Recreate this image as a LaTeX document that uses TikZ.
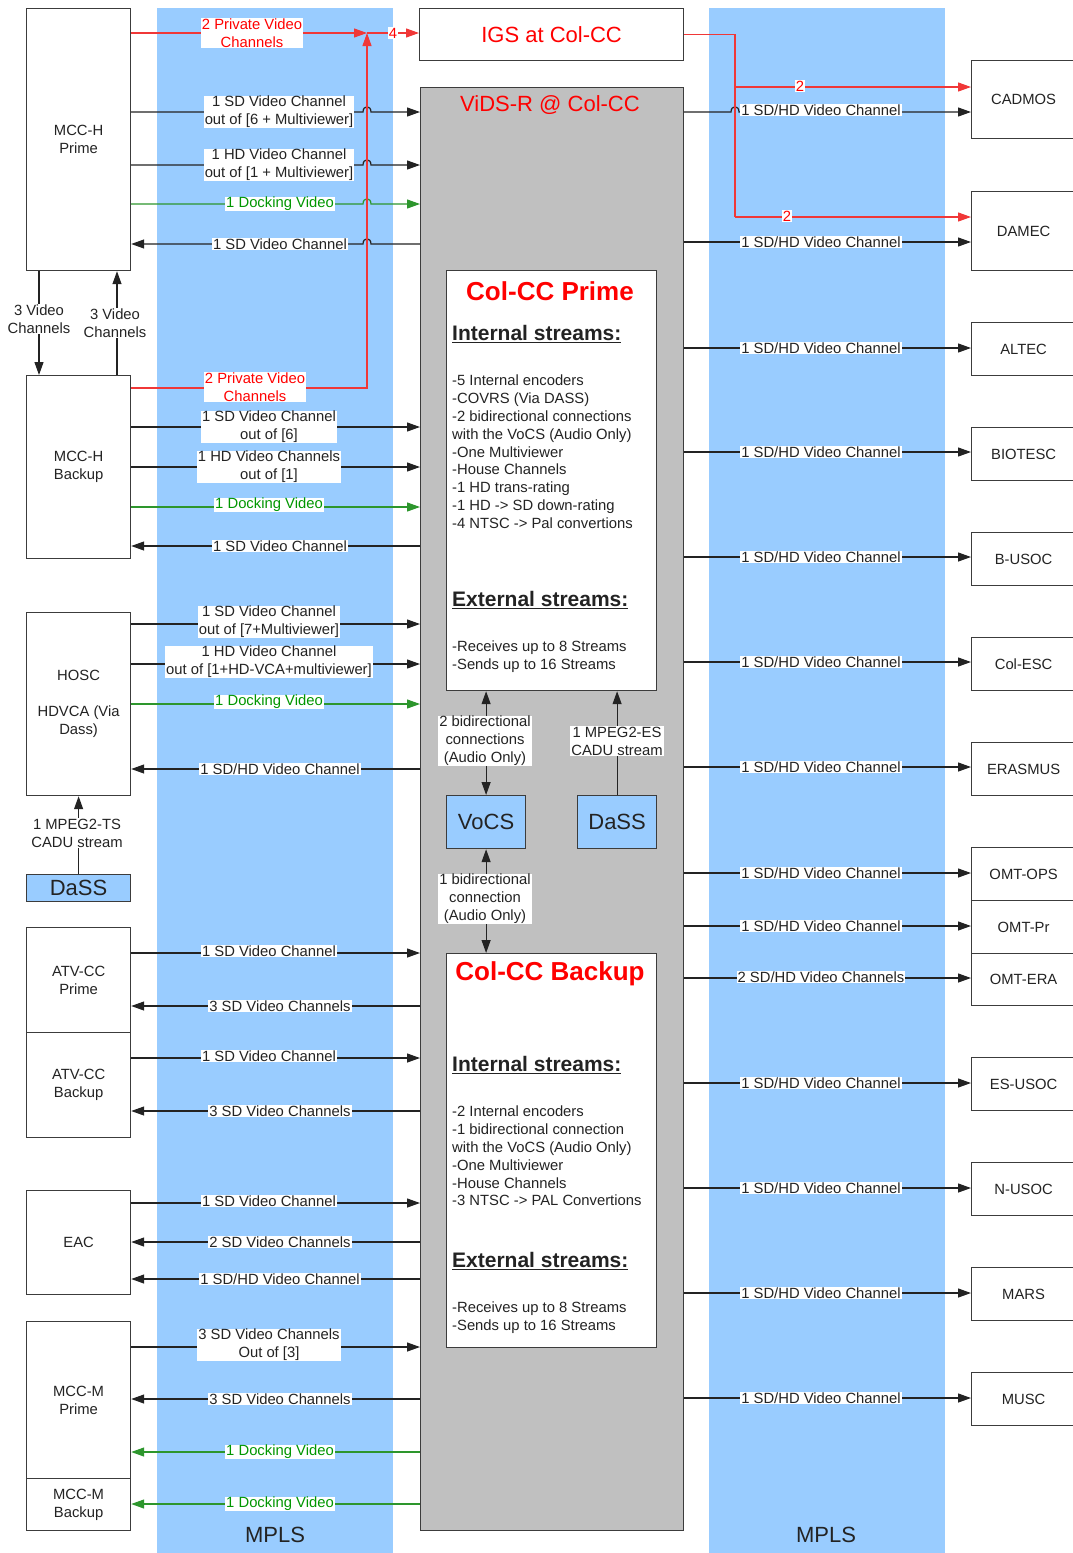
\documentclass[tikz,border=0pt]{standalone}
\usepackage{fontspec}
\setmainfont{Liberation Sans}
\usetikzlibrary{arrows.meta}
\definecolor{mplsblue}{RGB}{153,204,255}
\definecolor{vidsgray}{RGB}{192,192,192}
\definecolor{bordc}{RGB}{60,60,60}
\definecolor{txtc}{RGB}{35,35,35}
\definecolor{redc}{RGB}{255,0,0}
\definecolor{redl}{RGB}{240,55,55}
\definecolor{grnc}{RGB}{0,150,0}
\definecolor{grnl}{RGB}{45,150,45}
\newcommand{\lblfont}{\fontsize{14.8}{18}\selectfont}
\newcommand{\bigfont}{\fontsize{22}{26}\selectfont}
\newcommand{\titfont}{\fontsize{26}{30}\selectfont\bfseries}
\newcommand{\hdfont}{\fontsize{21}{24}\selectfont\bfseries}
\newcommand{\lstfont}{\fontsize{14.8}{17.8}\selectfont}
\def\sdhd{1 SD/HD Video Channel}
\begin{document}
\begin{tikzpicture}[x=1pt,y=-1pt,
  box/.style={draw=bordc, fill=white, line width=1.2pt, anchor=north west, inner sep=2pt, align=center, font=\lblfont, text=txtc, minimum width=104},
  bluebox/.style={draw=bordc, fill=mplsblue, line width=1.2pt, anchor=north west, inner sep=0pt, font=\bigfont, text=txtc},
  lbl/.style={fill=white, inner xsep=1pt, inner ysep=0.5pt, align=center, font=\lblfont, text=txtc},
  rlbl/.style={lbl, text=redc},
  glbl/.style={lbl, text=grnc},
  arr/.style={line width=1.2pt, draw=txtc, -{Triangle[length=13pt,width=9pt]}},
  biarr/.style={line width=1.2pt, draw=txtc, {Triangle[length=13pt,width=9pt]}-{Triangle[length=13pt,width=9pt]}},
  rline/.style={line width=1.2pt, draw=redl},
  rarr/.style={arr, draw=redl},
  garr/.style={arr, draw=grnl}
]
\useasboundingbox (0,0) rectangle (1073,1553);
\fill[white] (0,0) rectangle (1073,1553);
% MPLS bands
\fill[mplsblue] (157,8) rectangle (393,1553);
\fill[mplsblue] (709,8) rectangle (945,1553);
\node[font=\bigfont, text=txtc] (mplsL) at (275,1535) {MPLS};
\node[font=\bigfont, text=txtc] (mplsR) at (826,1535) {MPLS};

% central boxes
\node[draw=bordc, fill=vidsgray, line width=1.2pt, anchor=north west, minimum width=263, minimum height=1443, inner sep=0pt] (vids) at (420,87) {};
\node[font=\bigfont, text=redc] (vidsT) at (550,105) {ViDS-R @ Col-CC};
\node[box, minimum width=264, minimum height=52, font=\bigfont, text=redc] (igs) at (419,8) {IGS at Col-CC};

% left boxes
\node[box, minimum height=262] (mcchp) at (26,8) {MCC-H\\Prime};
\node[box, minimum height=183] (mcchb) at (26,375) {MCC-H\\Backup};
\node[box, minimum height=183] (hosc) at (26,612) {HOSC\\[18pt]HDVCA (Via\\Dass)};
\node[bluebox, minimum width=104, minimum height=27] (dassL) at (26,874) {DaSS};
\node[box, minimum height=105] (atvp) at (26,927) {ATV-CC\\Prime};
\node[box, minimum height=105] (atvb) at (26,1032) {ATV-CC\\Backup};
\node[box, minimum height=104] (eac) at (26,1190) {EAC};
\node[box, minimum height=157] (mccmp) at (26,1321) {MCC-M\\Prime};
\node[box, minimum height=52] (mccmb) at (26,1478) {MCC-M\\Backup};

% right boxes
\foreach \n/\t/\y/\h in {cadmos/CADMOS/60/78, damec/DAMEC/191/79, altec/ALTEC/322/53, biotesc/BIOTESC/427/53, busoc/B-USOC/532/53, colesc/Col-ESC/637/53, erasmus/ERASMUS/742/53, omtops/OMT-OPS/847/53, omtpr/OMT-Pr/900/53, omtera/OMT-ERA/953/52, esusoc/ES-USOC/1057/53, nusoc/N-USOC/1162/53, mars/MARS/1267/53, musc/MUSC/1372/53}
  \node[box, minimum height=\h] (\n) at (971,\y) {\t};

% inner boxes
\node[box, minimum width=210, minimum height=420] (ccp) at (446,270) {};
\node[bluebox, minimum width=79, minimum height=53] (vocs) at (446,795) {VoCS};
\node[bluebox, minimum width=79, minimum height=53] (dassI) at (577,795) {DaSS};
\node[box, minimum width=210, minimum height=394] (ccb) at (446,953) {};

% Col-CC Prime text
\node[font=\titfont, text=redc] (ccpT) at (550,291) {Col-CC Prime};
\node[font=\hdfont, text=txtc, anchor=west, inner sep=0pt] (ccpI) at (452,334) {\underline{Internal streams:}};
\node[font=\lstfont, text=txtc, anchor=north west, align=left, inner sep=0pt] (ccpL) at (452,375) {-5 Internal encoders\\-COVRS (Via DASS)\\-2 bidirectional connections\\with the VoCS (Audio Only)\\-One Multiviewer\\-House Channels\\-1 HD trans-rating\\-1 HD -> SD down-rating\\-4 NTSC -> Pal convertions};
\node[font=\hdfont, text=txtc, anchor=west, inner sep=0pt] (ccpE) at (452,600) {\underline{External streams:}};
\node[font=\lstfont, text=txtc, anchor=north west, align=left, inner sep=0pt] (ccpX) at (452,641) {-Receives up to 8 Streams\\-Sends up to 16 Streams};

% Col-CC Backup text
\node[font=\titfont, text=redc] (ccbT) at (550,974) {Col-CC Backup};
\node[font=\hdfont, text=txtc, anchor=west, inner sep=0pt] (ccbI) at (452,1065) {\underline{Internal streams:}};
\node[font=\lstfont, text=txtc, anchor=north west, align=left, inner sep=0pt] (ccbL) at (452,1106) {-2 Internal encoders\\-1 bidirectional connection\\with the VoCS (Audio Only)\\-One Multiviewer\\-House Channels\\-3 NTSC -> PAL Convertions};
\node[font=\hdfont, text=txtc, anchor=west, inner sep=0pt] (ccbE) at (452,1261) {\underline{External streams:}};
\node[font=\lstfont, text=txtc, anchor=north west, align=left, inner sep=0pt] (ccbX) at (452,1302) {-Receives up to 8 Streams\\-Sends up to 16 Streams};

% VoCS / DaSS connections
\draw[biarr] (ccp.south -| vocs.north) -- (vocs.north);
\node[lbl] (lv1) at (485,741) {2 bidirectional\\connections\\(Audio Only)};
\draw[arr] (dassI.north) -- (ccp.south -| dassI.north);
\node[lbl] (ld1) at (617,741) {1 MPEG2-ES\\CADU stream};
\draw[biarr] (vocs.south) -- (ccb.north -| vocs.south);
\node[lbl] (lv2) at (485,899) {1 bidirectional\\connection\\(Audio Only)};

% MCC-H Prime <-> Backup
\draw[arr] (mcchp.south -| 39,0) -- (mcchb.north -| 39,0);
\node[lbl] (lh1) at (39,319) {3 Video\\Channels};
\draw[arr] (mcchb.north -| 117,0) -- (mcchp.south -| 117,0);
\node[lbl] (lh2) at (115,323) {3 Video\\Channels};

% DaSS -> HOSC
\draw[arr] (dassL.north) -- (hosc.south);
\node[lbl] (lds) at (77,833) {1 MPEG2-TS\\CADU stream};

% MCC-H Prime connections (with hops over the red line)
\draw[arr] (mcchp.east |- 0,112) -- (363,112) .. controls (363,105) and (371,105) .. (371,112) -- (vids.west |- 0,112);
\node[lbl] (la1) at (279,112) {1 SD Video Channel\\out of [6 + Multiviewer]};
\draw[arr] (mcchp.east |- 0,165) -- (363,165) .. controls (363,158) and (371,158) .. (371,165) -- (vids.west |- 0,165);
\node[lbl] (la2) at (279,165) {1 HD Video Channel\\out of [1 + Multiviewer]};
\draw[garr] (mcchp.east |- 0,204) -- (363,204) .. controls (363,197) and (371,197) .. (371,204) -- (vids.west |- 0,204);
\node[glbl] (la3) at (280,204) {1 Docking Video};
\draw[arr] (vids.west |- 0,244) -- (371,244) .. controls (371,237) and (363,237) .. (363,244) -- (mcchp.east |- 0,244);
\node[lbl] (la4) at (280,244) {1 SD Video Channel};

% MCC-H Backup
\draw[arr] (mcchb.east |- 0,427) -- (vids.west |- 0,427);
\node[lbl] (lb1) at (269,427) {1 SD Video Channel\\out of [6]};
\draw[arr] (mcchb.east |- 0,467) -- (vids.west |- 0,467);
\node[lbl] (lb2) at (269,467) {1 HD Video Channels\\out of [1]};
\draw[garr] (mcchb.east |- 0,507) -- (vids.west |- 0,507);
\node[glbl] (lb3) at (269,505) {1 Docking Video};
\draw[arr] (vids.west |- 0,546) -- (mcchb.east |- 0,546);
\node[lbl] (lb4) at (280,546) {1 SD Video Channel};

% HOSC
\draw[arr] (hosc.east |- 0,624) -- (vids.west |- 0,624);
\node[lbl] (lc1) at (269,622) {1 SD Video Channel\\out of [7+Multiviewer]};
\draw[arr] (hosc.east |- 0,664) -- (vids.west |- 0,664);
\node[lbl] (lc2) at (269,662) {1 HD Video Channel\\out of [1+HD-VCA+multiviewer]};
\draw[garr] (hosc.east |- 0,704) -- (vids.west |- 0,704);
\node[glbl] (lc3) at (269,702) {1 Docking Video};
\draw[arr] (vids.west |- 0,769) -- (hosc.east |- 0,769);
\node[lbl] (lc4) at (280,769) {1 SD/HD Video Channel};

% ATV-CC
\draw[arr] (atvp.east |- 0,953) -- (vids.west |- 0,953);
\node[lbl] (le1) at (269,951) {1 SD Video Channel};
\draw[arr] (vids.west |- 0,1006) -- (atvp.east |- 0,1006);
\node[lbl] (le2) at (280,1006) {3 SD Video Channels};
\draw[arr] (atvb.east |- 0,1058) -- (vids.west |- 0,1058);
\node[lbl] (le3) at (269,1056) {1 SD Video Channel};
\draw[arr] (vids.west |- 0,1111) -- (atvb.east |- 0,1111);
\node[lbl] (le4) at (280,1111) {3 SD Video Channels};

% EAC
\draw[arr] (eac.east |- 0,1203) -- (vids.west |- 0,1203);
\node[lbl] (lf1) at (269,1201) {1 SD Video Channel};
\draw[arr] (vids.west |- 0,1242) -- (eac.east |- 0,1242);
\node[lbl] (lf2) at (280,1242) {2 SD Video Channels};
\draw[arr] (vids.west |- 0,1279) -- (eac.east |- 0,1279);
\node[lbl] (lf3) at (280,1279) {1 SD/HD Video Channel};

% MCC-M
\draw[arr] (mccmp.east |- 0,1347) -- (vids.west |- 0,1347);
\node[lbl] (lg1) at (269,1345) {3 SD Video Channels\\Out of [3]};
\draw[arr] (vids.west |- 0,1399) -- (mccmp.east |- 0,1399);
\node[lbl] (lg2) at (280,1399) {3 SD Video Channels};
\draw[garr] (vids.west |- 0,1452) -- (mccmp.east |- 0,1452);
\node[glbl] (lg3) at (280,1452) {1 Docking Video};
\draw[garr] (vids.west |- 0,1504) -- (mccmb.east |- 0,1504);
\node[glbl] (lg4) at (280,1504) {1 Docking Video};

% right side connections
\draw[arr] (vids.east |- 0,112) -- (731,112) .. controls (731,105) and (739,105) .. (739,112) -- (cadmos.west |- 0,112);
\node[lbl] (rl0) at (821,110) {\sdhd};
\foreach \n/\y in {damec/242, altec/348, biotesc/452, busoc/557, colesc/662, erasmus/767, omtops/873, omtpr/926, esusoc/1083, nusoc/1188, mars/1293, musc/1398} {
  \draw[arr] (vids.east |- 0,\y) -- (\n.west |- 0,\y);
  \node[lbl] (rl\n) at (821,\y) {\sdhd};
}
\draw[arr] (vids.east |- 0,978) -- (omtera.west |- 0,978);
\node[lbl] (rlomtera) at (821,977) {2 SD/HD Video Channels};

% red private channels
\coordinate (j1) at (367,33);
\draw[rarr] (mcchp.east |- j1) -- (j1);
\node[rlbl] (lr1) at (252,33) {2 Private Video\\Channels};
\draw[rarr] (mcchb.east |- 0,388) -| (j1);
\node[rlbl] (lr2) at (255,387) {2 Private Video\\Channels};
\draw[rarr] (j1) -- (igs.west |- j1);
\node[rlbl, inner xsep=0.5pt] (lr3) at (393,33) {4};
\coordinate (j2) at (735,87);
\coordinate (j3) at (735,217);
\draw[rline] (igs.east) -| (j3);
\draw[rarr] (j2) -- (cadmos.west |- j2);
\node[rlbl, inner xsep=0.5pt] (lr4) at (800,86) {2};
\draw[rarr] (j3) -- (damec.west |- j3);
\node[rlbl, inner xsep=0.5pt] (lr5) at (787,216) {2};
\end{tikzpicture}
\end{document}
